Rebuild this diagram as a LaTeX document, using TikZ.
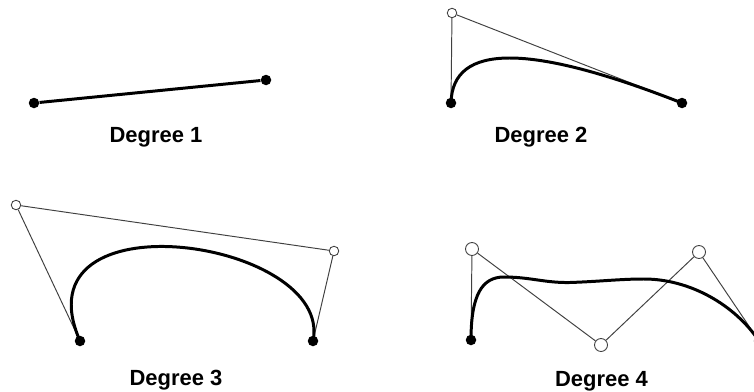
\documentclass[tikz,border=0pt]{standalone}
\usepackage{fontspec}
\setmainfont{Liberation Sans}
\usetikzlibrary{backgrounds}
\tikzset{
  endpt/.style={circle, fill=black, inner sep=0pt, minimum size=0.21cm},
  ctrlpt/.style={circle, draw=black!75, fill=white, line width=0.5pt, inner sep=0pt, minimum size=0.19cm},
  bigctrl/.style={ctrlpt, minimum size=0.26cm},
  hull/.style={draw=black!75, line width=0.55pt},
  curve/.style={draw=black, line width=1.7pt},
  caption/.style={font=\fontsize{12.5}{15}\selectfont\bfseries, anchor=base}
}

\begin{document}
\begin{tikzpicture}[x=0.02cm, y=-0.02cm]
  \useasboundingbox (0,0) rectangle (754,392);

  % degree 1
  \node[endpt] (a0) at (34,103) {};
  \node[endpt] (a1) at (266,80) {};
  \node[caption] (capa) at (156,142.7) {Degree 1};

  % degree 2
  \node[endpt] (b0) at (451,103) {};
  \node[ctrlpt] (b1) at (452,13) {};
  \node[endpt] (b2) at (682,103) {};
  \node[caption] (capb) at (541,142.7) {Degree 2};

  % degree 3
  \node[endpt] (c0) at (80,341) {};
  \node[ctrlpt] (c1) at (16,205) {};
  \node[ctrlpt] (c2) at (334,251) {};
  \node[endpt] (c3) at (313,341) {};
  \node[caption] (capc) at (176,385) {Degree 3};

  % degree 4
  \node[endpt] (d0) at (471,340) {};
  \node[bigctrl] (d1) at (472,249) {};
  \node[bigctrl] (d2) at (601,345) {};
  \node[bigctrl] (d3) at (699,252) {};
  \node[endpt] (d4) at (759,341) {};
  \node[caption] (capd) at (601.5,386) {Degree 4};

  \begin{pgfonlayer}{background}
    \draw[curve] (a0) -- (a1);

    \draw[hull] (b0) -- (b1) -- (b2);
    \draw[curve] (b0.center) .. controls (452.3,43) and (529.3,43) .. (b2.center);

    \draw[hull] (c0) -- (c1) -- (c2) -- (c3);
    \draw[curve] (c0.center) .. controls (15,193) and (334,239) .. (c3.center);

    \draw[hull] (d0) -- (d1) -- (d2) -- (d3) -- (d4);
    \draw[curve] (d0.center) .. controls (471,295) and (482,277) .. (504,277)
      .. controls (530,277) and (545,283) .. (570,282.5)
      .. controls (600,281.5) and (620,279) .. (644,279)
      .. controls (690,279) and (735,305) .. (d4.center);
  \end{pgfonlayer}
\end{tikzpicture}
\end{document}
